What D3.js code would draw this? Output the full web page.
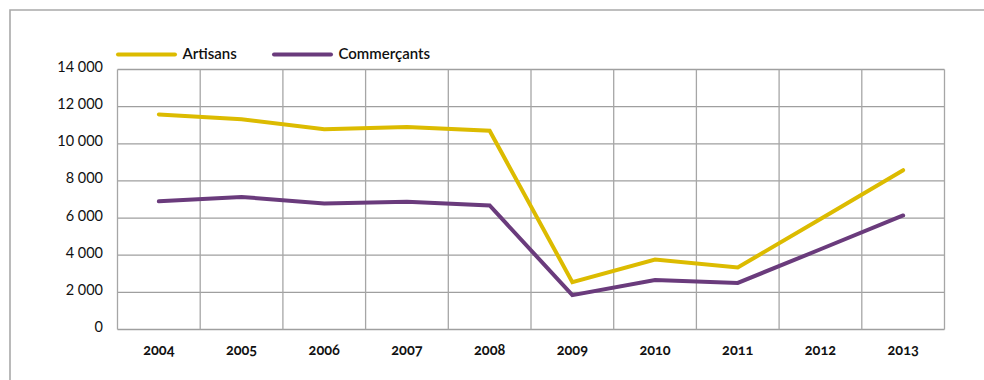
<!DOCTYPE html>
<html>
<head>
<meta charset="utf-8">
<script src="https://cdn.jsdelivr.net/npm/d3@7"></script>
<style>
  html, body { margin: 0; padding: 0; background: #fff; }
  svg { display: block; font-family: Lato, "Open Sans", sans-serif; }
  .num { font-variant-numeric: oldstyle-nums; }
</style>
</head>
<body>
<svg id="chart" width="984" height="380"></svg>
<script>
// Annual figures per category
const years = ["2004", "2005", "2006", "2007", "2008", "2009", "2010", "2011", "2012", "2013"];
const artisans = [11580, 11320, 10780, 10900, 10700, 2550, 3770, 3340, 5950, 8580];
const commercants = [6900, 7140, 6780, 6880, 6680, 1850, 2670, 2510, 4320, 6140];
const yTicks = [0, 2000, 4000, 6000, 8000, 10000, 12000, 14000];
const seriesNames = ["Artisans", "Commerçants"];
const seriesColors = ["#dcbb00", "#6a3b7c"];

const svg = d3.select("#chart");
const W = 984, H = 380;
const margin = { left: 117.5, right: W - 944.5, top: 69.5, bottom: H - 329.5 };

// Outer frame (open to the right and bottom)
svg.append("path")
  .attr("d", `M10,${H + 2} L10,10 L${W + 2},10`)
  .attr("fill", "none")
  .attr("stroke", "#a9a9a9")
  .attr("stroke-width", 1.6);

const x = d3.scaleBand().domain(years).range([margin.left, W - margin.right]).padding(0);
const y = d3.scaleLinear().domain([0, 14000]).range([H - margin.bottom, margin.top]);

// Horizontal gridlines
svg.append("g").selectAll("line").data(yTicks).join("line")
  .attr("x1", margin.left).attr("x2", W - margin.right)
  .attr("y1", d => y(d)).attr("y2", d => y(d))
  .attr("stroke", "#9f9f9f").attr("stroke-width", 1.3);

// Vertical gridlines at band edges
const edges = years.map(d => x(d)).concat([x(years[years.length - 1]) + x.bandwidth()]);
svg.append("g").selectAll("line").data(edges).join("line")
  .attr("x1", d => d).attr("x2", d => d)
  .attr("y1", y(14000)).attr("y2", y(0))
  .attr("stroke", "#a6a6a6").attr("stroke-width", 1.3);

// Y axis labels, space as thousands separator
svg.append("g").selectAll("text").data(yTicks).join("text")
  .attr("x", 103).attr("y", d => y(d) - 3)
  .attr("text-anchor", "end").attr("dominant-baseline", "central")
  .attr("font-size", 14.5).attr("fill", "#111")
  .text(d => d3.format(",")(d).replace(/,/g, " "));

// X axis labels
svg.append("g").selectAll("text").data(years).join("text")
  .attr("class", "num")
  .attr("x", d => x(d) + x.bandwidth() / 2).attr("y", 349)
  .attr("text-anchor", "middle").attr("dominant-baseline", "central")
  .attr("font-size", 14.5).attr("font-weight", 700).attr("fill", "#111")
  .text(d => d);

// Lines
const line = d3.line()
  .x((d, i) => x(years[i]) + x.bandwidth() / 2)
  .y(d => y(d));

[artisans, commercants].forEach((vals, i) => {
  svg.append("path")
    .datum(vals)
    .attr("d", line)
    .attr("fill", "none")
    .attr("stroke", seriesColors[i])
    .attr("stroke-width", 4)
    .attr("stroke-linejoin", "miter")
    .attr("stroke-linecap", "round");
});

// Legend
const legendX = [117, 273];
const lg = svg.append("g");
seriesNames.forEach((name, i) => {
  lg.append("line")
    .attr("x1", legendX[i] + 1).attr("x2", legendX[i] + 58)
    .attr("y1", 54.5).attr("y2", 54.5)
    .attr("stroke", seriesColors[i]).attr("stroke-width", 4).attr("stroke-linecap", "round");
  lg.append("text")
    .attr("x", legendX[i] + 65.5).attr("y", 53)
    .attr("dominant-baseline", "central")
    .attr("font-size", 15).attr("font-weight", 600).attr("fill", "#111")
    .text(name);
});
</script>
</body>
</html>
